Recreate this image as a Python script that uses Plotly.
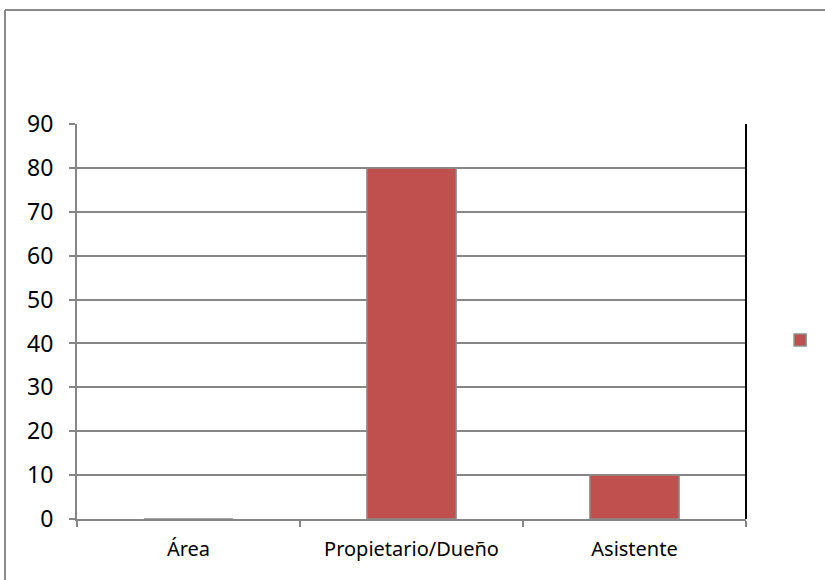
import plotly.graph_objects as go

categories = ["Área", "Propietario/Dueño", "Asistente"]
values = [0, 80, 10]
y_ticks = [0, 10, 20, 30, 40, 50, 60, 70, 80, 90]

font_family = "Noto Sans, Arial"

fig = go.Figure()
fig.add_trace(go.Bar(
    x=categories,
    y=values,
    name=" ",
    width=0.4,
    marker=dict(color="#C0504D", line=dict(color="#8C8C8C", width=1.5)),
    showlegend=True,
))

fig.update_layout(
    width=825,
    height=580,
    margin=dict(l=77, r=79, t=124, b=61, autoexpand=False),
    paper_bgcolor="white",
    plot_bgcolor="white",
    font=dict(family=font_family, size=20, color="#000000"),
    bargap=0.6,
    legend=dict(
        x=1.051, y=0.453, xanchor="left", yanchor="middle",
        bgcolor="rgba(0,0,0,0)", font=dict(size=12),
        itemwidth=30,
    ),
    xaxis=dict(
        type="category",
        showline=True, linecolor="#868686", linewidth=2,
        ticks="outside", tickson="boundaries", ticklen=6,
        tickcolor="#868686", tickwidth=1.5,
        showgrid=False,
        ticklabelstandoff=11,
        tickfont=dict(size=20),
    ),
    yaxis=dict(
        range=[0, 90],
        tickvals=y_ticks,
        showline=True, linecolor="#868686", linewidth=2,
        ticks="outside", ticklen=6, tickcolor="#868686", tickwidth=1.5,
        showgrid=True, gridcolor="#868686", gridwidth=1.5,
        zeroline=False,
        ticklabelstandoff=11,
        tickfont=dict(size=23),
    ),
    shapes=[
        # right edge of the plot area
        dict(type="line", xref="paper", yref="paper", x0=1, x1=1, y0=0, y1=1,
             line=dict(color="#000000", width=2)),
        # chart frame (left and top edges)
        dict(type="line", xref="paper", yref="paper", x0=-0.1076, x1=-0.1076,
             y0=-0.2, y1=1.2886, line=dict(color="#8A8A8A", width=2)),
        dict(type="line", xref="paper", yref="paper", x0=-0.1076, x1=1.2,
             y0=1.2886, y1=1.2886, line=dict(color="#8A8A8A", width=2)),
    ],
)

fig.write_html("out.html")
